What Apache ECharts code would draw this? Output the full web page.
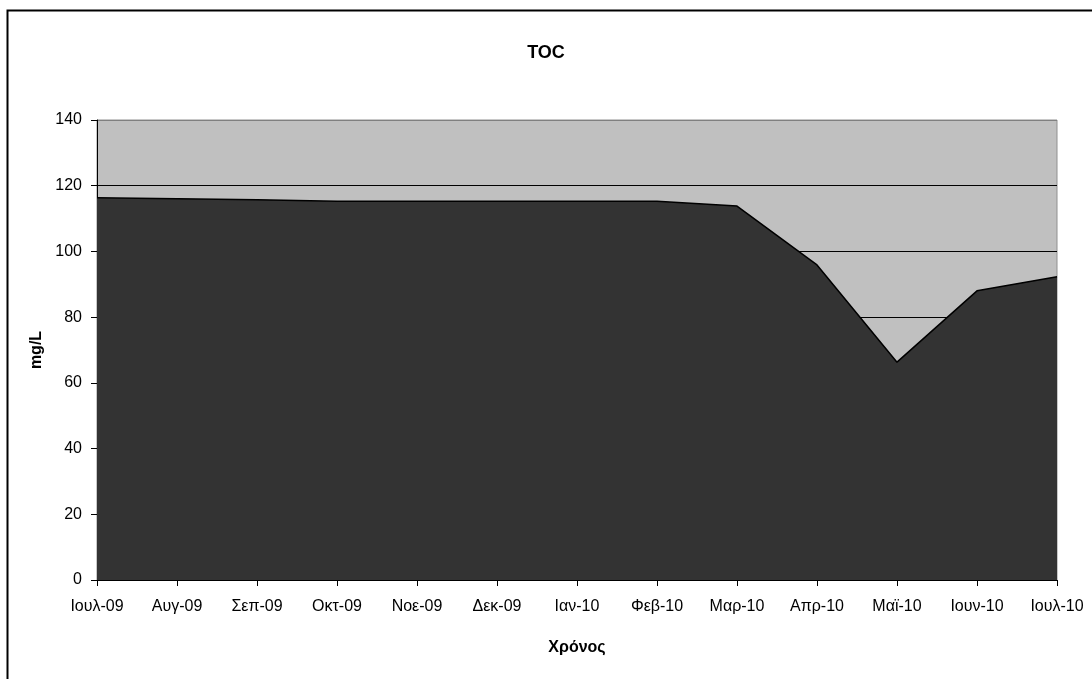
<!DOCTYPE html>
<html>
<head>
<meta charset="utf-8">
<script src="https://cdn.jsdelivr.net/npm/echarts@6/dist/echarts.min.js"></script>
<style>
html,body{margin:0;padding:0;background:#fff;}
#chart{width:1092px;height:679px;}
</style>
</head>
<body>
<div id="chart"></div>
<script>
const categories = ['Ιουλ-09','Αυγ-09','Σεπ-09','Οκτ-09','Νοε-09','Δεκ-09','Ιαν-10','Φεβ-10','Μαρ-10','Απρ-10','Μαϊ-10','Ιουν-10','Ιουλ-10'];
const tocValues = [116.3, 116.0, 115.7, 115.3, 115.3, 115.3, 115.3, 115.3, 113.8, 95.9, 66.3, 88.0, 92.3];
const titleText = 'TOC';
const yAxisName = 'mg/L';
const xAxisName = 'Χρόνος';

const font = 'Liberation Sans, Arial, sans-serif';
const chart = echarts.init(document.getElementById('chart'));
chart.setOption({
  animation: false,
  backgroundColor: '#ffffff',
  title: {
    text: titleText,
    left: 'center',
    top: 39,
    textStyle: {fontFamily: font, fontSize: 18, fontWeight: 'bold', color: '#000'}
  },
  graphic: [{
    type: 'rect',
    shape: {x: 7.5, y: 10.5, width: 1200, height: 800},
    style: {fill: 'none', stroke: '#000', lineWidth: 2},
    silent: true,
    z: 100
  }],
  grid: {
    left: 97, right: 35, top: 120, bottom: 99,
    show: true,
    backgroundColor: '#C0C0C0',
    borderColor: '#909090',
    borderWidth: 1
  },
  xAxis: {
    type: 'category',
    data: categories,
    boundaryGap: false,
    name: xAxisName,
    nameLocation: 'middle',
    nameGap: 60,
    nameTextStyle: {fontFamily: font, fontSize: 16, fontWeight: 'bold', color: '#000'},
    axisLine: {show: true, lineStyle: {color: '#000', width: 1}},
    axisTick: {show: true, inside: false, length: 6, alignWithLabel: true, lineStyle: {color: '#000'}},
    axisLabel: {fontFamily: font, fontSize: 16, color: '#000', margin: 19, interval: 0},
    splitLine: {show: false}
  },
  yAxis: {
    type: 'value',
    min: 0, max: 140, interval: 20,
    name: yAxisName,
    nameLocation: 'middle',
    nameGap: 52,
    nameRotate: 90,
    nameTextStyle: {fontFamily: font, fontSize: 16, fontWeight: 'bold', color: '#000'},
    axisLine: {show: true, lineStyle: {color: '#000', width: 1}},
    axisTick: {show: true, inside: false, length: 6, lineStyle: {color: '#000'}},
    axisLabel: {fontFamily: font, fontSize: 16, color: '#000', margin: 15},
    splitLine: {show: true, lineStyle: {color: ['#000','#000','#000','#000','#000','#000','#000','#808080'], width: 1}}
  },
  series: [{
    type: 'line',
    data: tocValues,
    symbol: 'none',
    lineStyle: {color: '#000', width: 1.5},
    areaStyle: {color: '#333333', opacity: 1}
  }]
});
</script>
</body>
</html>
